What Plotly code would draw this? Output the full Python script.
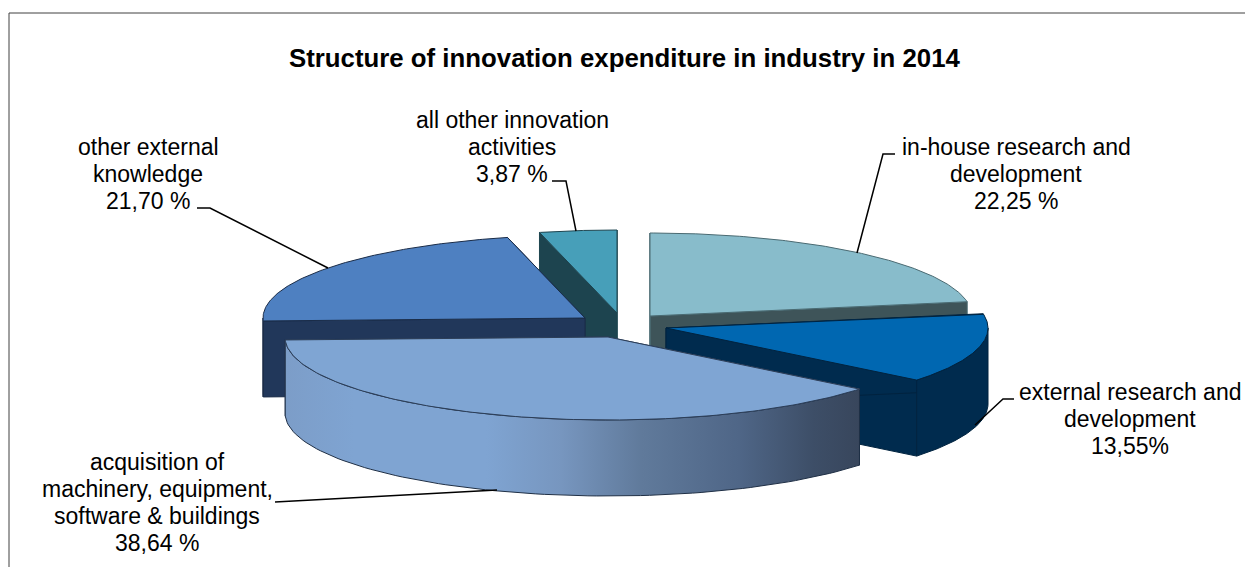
import numpy as np
import plotly.graph_objects as go

# ---- data ----
CATEGORIES = ["in-house research and development", "external research and development",
              "acquisition of machinery, equipment, software & buildings",
              "other external knowledge", "all other innovation activities"]
SHARES = [22.25, 13.55, 38.64, 21.70, 3.87]
LABELS = [["in-house research and", "development", "22,25 %"],
          ["external research and", "development", "13,55%"],
          ["acquisition of", "machinery, equipment,", "software &amp; buildings", "38,64 %"],
          ["other external", "knowledge", "21,70 %"],
          ["all other innovation", "activities", "3,87 %"]]
TITLE = "Structure of innovation expenditure in industry in 2014"

# ---- styling / layout (pixel-like plot space) ----
W, H = 1245, 567
B, DEPTH = 83, 76
APEX = [(650, 316), (666, 328), (608, 337), (585, 318), (617, 313)]
RADIUS_A = [322, 322, 323, 322, 322]
TOP = ["#88bccb", "#0067b1", "#7fa5d3", "#4e80c1", "#479fb9"]
WALL = ["#3e5459", "#002b4e", "#38465c", "#21375a", "#1d444f"]
EDGE = ["#4a6a72", "#00233f", "#2c3e58", "#1a2c48", "#1d444f"]
LABEL_POS = [(1016, 174), (1130, 419), (157, 502), (148, 174), (512, 147)]
LINE_STEP = 27
LEADERS = [[(895, 154), (883, 154), (857, 253)],
           [(1014, 399), (1003, 399), (975, 425)],
           [(275, 502), (497, 490)],
           [(197, 208), (210, 208), (328, 268)],
           [(552, 181), (566, 181), (576, 231)]]
GRADIENT = [[0, "#7c9dc8"], [0.12, "#7fa4d2"], [0.35, "#7fa4d2"], [0.48, "#7796bf"],
            [0.62, "#607a9b"], [0.79, "#4f6687"], [0.92, "#3d4e67"], [1, "#38465c"]]
DRAW_ORDER = [4, 0, 3, 1, 2]

edges = np.concatenate([[0], np.cumsum(SHARES)]) / np.sum(SHARES) * 2 * np.pi


def rim(i, t):
    cx, cy = APEX[i]
    return cx + RADIUS_A[i] * np.sin(t), cy - B * np.cos(t)


def poly(x, y, fill, line, **kw):
    return go.Scatter(x=list(x) + [x[0]], y=list(y) + [y[0]], mode="lines", fill="toself",
                      fillcolor=fill, line=dict(color=line, width=1), hoverinfo="skip",
                      showlegend=False, **kw)


fig = go.Figure()
for i in DRAW_ORDER:
    t0, t1 = edges[i], edges[i + 1]
    cx, cy = APEX[i]
    # straight cut faces
    for t in (t1, t0):
        ex, ey = rim(i, t)
        fig.add_trace(poly([cx, ex, ex, cx], [cy, ey, ey + DEPTH, cy + DEPTH], WALL[i], EDGE[i]))
    # outer curved face (only the part that faces the viewer)
    lo, hi = max(t0, np.pi / 2), min(t1, 3 * np.pi / 2)
    if hi > lo:
        ts = np.linspace(lo, hi, 90)
        rx, ry = rim(i, ts)
        xs = np.concatenate([rx, rx[::-1]])
        ys = np.concatenate([ry, ry[::-1] + DEPTH])
        if i == 2:
            fig.add_trace(go.Scatter(x=list(xs) + [xs[0]], y=list(ys) + [ys[0]], mode="lines",
                                     fill="toself",
                                     fillgradient=dict(type="horizontal", colorscale=GRADIENT,
                                                       start=float(rx.min()), stop=float(rx.max())),
                                     line=dict(color="#1f2f45", width=1), hoverinfo="skip",
                                     showlegend=False))
        else:
            fig.add_trace(poly(xs, ys, WALL[i], EDGE[i]))
    # top face
    ts = np.linspace(t0, t1, 120)
    rx, ry = rim(i, ts)
    fig.add_trace(poly(np.concatenate([[cx], rx]), np.concatenate([[cy], ry]), TOP[i], EDGE[i]))

shapes = [dict(type="path", path="M " + " L ".join(f"{x},{y}" for x, y in pts),
               xref="x", yref="y", line=dict(color="#000000", width=1.5), layer="above")
          for pts in LEADERS]
shapes += [dict(type="line", x0=9, x1=W, y0=13, y1=13, xref="x", yref="y",
                line=dict(color="#404040", width=1)),
           dict(type="line", x0=9, x1=9, y0=13, y1=H, xref="x", yref="y",
                line=dict(color="#404040", width=1))]

annotations = []
for p, lines in zip(LABEL_POS, LABELS):
    first = p[1] - LINE_STEP * (len(lines) - 1) / 2
    for k, t in enumerate(lines):
        annotations.append(dict(x=p[0], y=first + k * LINE_STEP, xref="x", yref="y", text=t,
                                showarrow=False, align="center", xanchor="center",
                                yanchor="middle",
                                font=dict(family="Liberation Sans", size=23, color="#000000")))
annotations.append(dict(x=624, y=58, xref="x", yref="y", text=f"<b>{TITLE}</b>", showarrow=False,
                        xanchor="center", yanchor="middle",
                        font=dict(family="Liberation Sans", size=25.8, color="#000000")))

fig.update_layout(width=W, height=H, margin=dict(l=0, r=0, t=0, b=0), paper_bgcolor="white",
                  plot_bgcolor="white", showlegend=False, shapes=shapes, annotations=annotations,
                  xaxis=dict(range=[0, W], visible=False, fixedrange=True),
                  yaxis=dict(range=[H, 0], visible=False, fixedrange=True))
fig.write_html("out.html", config=dict(displayModeBar=False),
               post_script="document.body.style.margin='0';document.body.style.overflow='hidden';")
